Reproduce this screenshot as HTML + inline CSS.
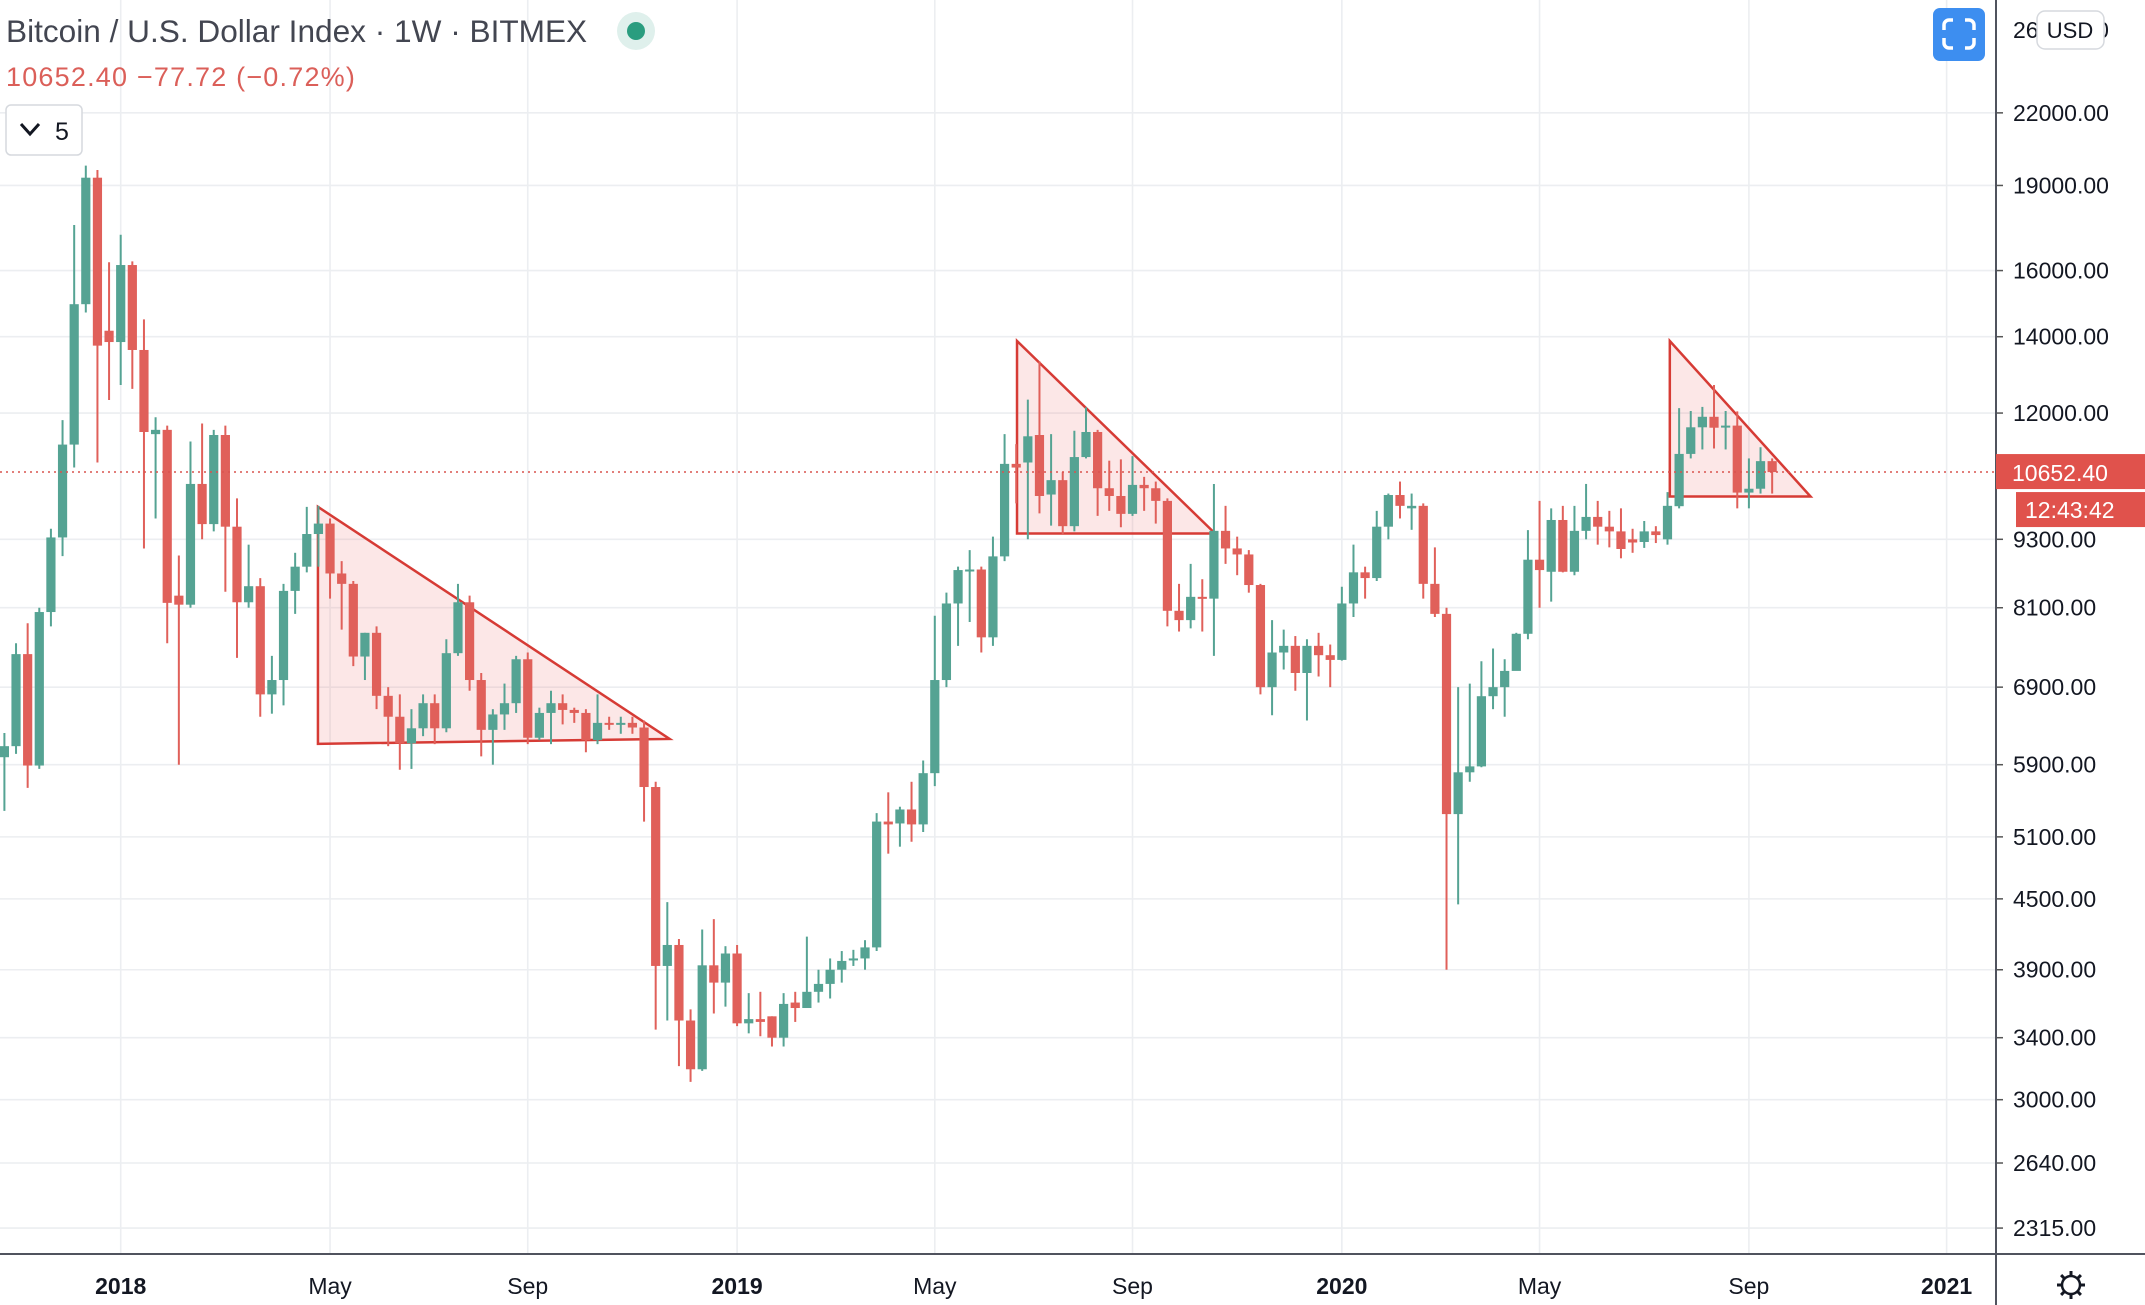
<!DOCTYPE html>
<html><head><meta charset="utf-8"><style>
html,body{margin:0;padding:0;background:#fff;}
body{width:2145px;height:1305px;overflow:hidden;position:relative;font-family:"Liberation Sans",sans-serif;}
svg{position:absolute;left:0;top:0;}
</style></head><body>
<svg id="chart" width="2145" height="1305" viewBox="0 0 2145 1305" xmlns="http://www.w3.org/2000/svg">
<g id="grid"></g>
<g id="tri"></g>
<g id="candles"></g>
<g id="axes"></g>
<g id="hdr">
<text x="6" y="42" font-size="31.6" fill="#434651">Bitcoin / U.S. Dollar Index · 1W · BITMEX</text>
<circle cx="636" cy="31" r="19" fill="#dff0ec"/>
<circle cx="636" cy="31" r="9" fill="#2a9d7f"/>
<text x="6" y="86" font-size="27" letter-spacing="1.2" fill="#db5f59">10652.40 −77.72 (−0.72%)</text>
<rect x="6" y="105" width="76" height="50" rx="5" fill="#fff" stroke="#d6d9de" stroke-width="1.5"/>
<path d="M21 124 L30 134 L39 124" fill="none" stroke="#131722" stroke-width="3"/>
<text x="55" y="140" font-size="25" fill="#131722">5</text>
<rect x="1933" y="8" width="52" height="53" rx="7" fill="#3d8ef0"/>
<rect x="1944" y="20" width="30" height="28" rx="5" fill="none" stroke="#fff" stroke-width="3.5"/>
<rect x="1939" y="30" width="40" height="8" fill="#3d8ef0"/>
<rect x="1953" y="14" width="12" height="40" fill="#3d8ef0"/>
</g>
</svg>
<script>
const opens=[5990,6125,7376,5890,8030,9335,11260,14950,19300,14170,13850,16180,13630,11500,11600,8300,8150,10400,9590,11480,9540,8190,8460,6800,7000,8380,8800,9400,9600,8680,8500,7340,7700,6780,6500,6160,6350,6680,6350,7390,8190,7000,6330,6530,6680,7300,6230,6550,6680,6590,6550,6200,6420,6400,6420,6360,5640,3930,4100,3520,3190,3935,3800,4030,3500,3530,3550,3400,3650,3610,3730,3790,3900,3980,3990,4080,5260,5240,5390,5230,5800,7000,8170,8740,8750,7630,8985,10830,10860,11480,10180,10480,9550,10980,11550,10310,10150,9790,10380,10310,10050,8050,7900,8280,8250,9460,9130,9020,8480,6900,7400,7500,7100,7500,7360,7290,8170,8700,8600,9540,10170,9900,9950,8500,8000,5340,5810,5880,6775,6900,7130,7685,8925,8710,9670,8710,9460,9730,9540,9450,9300,9250,9450,9300,9943,11050,11660,11910,11660,11700,10220,10300,10890];
const highs=[6290,7540,7850,8100,9500,11830,17540,19775,19600,16270,17200,16300,14500,11900,11700,9000,11330,11750,11600,11700,10100,9200,8600,7350,8500,9050,9930,9950,9700,8900,8550,7700,7800,6900,6800,6600,6800,6800,7600,8500,8300,7100,6600,6950,7350,7400,6620,6850,6800,6620,6600,6800,6500,6500,6500,6450,5700,4470,4150,3600,4230,4320,4090,4100,3720,3730,3550,3720,3730,4170,3900,3990,4050,4060,4140,5350,5580,5420,5700,5950,7970,8350,8800,9100,8800,9350,11500,11270,12330,13320,11500,10650,11580,12140,11600,10900,10930,11000,10550,10450,10100,8500,8850,8580,10400,9950,9350,9100,8500,7900,7750,7650,7600,7700,7520,8450,9200,8800,9850,10200,10450,10200,10000,9150,8100,6900,6950,7270,7460,7300,7700,9475,10050,9900,9950,9950,10400,10050,9850,9900,9500,9650,9550,10230,12120,12050,12150,12700,12050,12040,10950,11200,10950];
const lows=[5375,6030,5630,5850,7800,8990,10750,14700,10860,12320,12700,12600,9130,9700,7540,5900,8100,9300,9450,8365,7320,8100,6500,6540,6650,8000,8700,8800,8250,7750,7200,7000,6600,6125,5840,5850,6250,6150,6300,7350,6850,6000,5900,6330,6550,6150,6200,6150,6400,6420,6050,6150,6330,6280,6280,5260,3456,3520,3210,3110,3180,3570,3620,3480,3430,3410,3340,3340,3510,3610,3650,3680,3800,3930,3900,4050,4930,5000,5050,5150,5650,6900,7500,7870,7400,7500,8900,10000,9300,9800,9560,9400,9450,10950,9750,9850,9530,9750,9850,9600,7800,7720,7770,7720,7350,8850,8650,8350,6800,6520,7150,6850,6450,7050,6900,7280,7950,8250,8550,9300,9700,9480,8250,7950,3900,4450,5700,5870,6600,6500,7600,7600,8100,8200,8700,8650,9300,9200,9150,8950,9050,9140,9230,9200,9900,10950,11150,11170,11150,9900,9900,10200,10200];
const closes=[6125,7376,5890,8030,9335,11260,14950,19300,13750,13850,16180,13630,11550,11600,8180,8150,10400,9590,11480,9540,8190,8460,6800,7000,8380,8800,9400,9600,8680,8500,7340,7700,6780,6500,6160,6350,6680,6350,7390,8190,7000,6330,6530,6680,7300,6230,6550,6680,6590,6550,6200,6420,6400,6420,6360,5640,3930,4100,3520,3190,3935,3800,4030,3500,3530,3510,3400,3640,3610,3730,3790,3900,3970,3990,4080,5260,5230,5390,5230,5800,7000,8170,8740,8750,7630,8985,10830,10750,11450,10150,10480,9550,10980,11550,10310,10150,9790,10380,10310,10050,8050,7900,8280,8250,9460,9130,9020,8480,6900,7400,7500,7100,7500,7360,7290,8170,8700,8600,9540,10170,9950,9950,8500,8000,5340,5810,5880,6775,6900,7130,7685,8925,8740,9670,8710,9460,9730,9540,9450,9120,9240,9450,9380,9950,11050,11660,11910,11650,11700,10220,10300,10890,10652];
const priceTicks=[22000,19000,16000,14000,12000,9300,8100,6900,5900,5100,4500,3900,3400,3000,2640,2315];
const tickLabels=["22000.00","19000.00","16000.00","14000.00","12000.00","9300.00","8100.00","6900.00","5900.00","5100.00","4500.00","3900.00","3400.00","3000.00","2640.00","2315.00"];
const timeIdx=[10,28,45,63,80,97,115,132,150,167];
const timeLabels=["2018","May","Sep","2019","May","Sep","2020","May","Sep","2021"];
const yearFlags=[1,0,0,1,0,0,1,0,0,1];
const triIdx=[[26.96,26.96,57.2],[87.07,87.07,104.1],[143.2,143.2,155.3]];
const triPrice=[[9930,6154,6215],[13880,9410,9410],[13880,10140,10140]];
const lastPrice=10652.40;

const NS="http://www.w3.org/2000/svg";
const PW=1996;
function yOf(p){return 30.1+Math.log(26000/p)*495.3;}
function xOf(i){return 4.4+i*11.63;}
function mk(tag,attrs,parent){const e=document.createElementNS(NS,tag);for(const k in attrs)e.setAttribute(k,attrs[k]);parent.appendChild(e);return e;}
const G=document.getElementById('grid'),C=document.getElementById('candles'),A=document.getElementById('axes'),T=document.getElementById('tri');
priceTicks.forEach((p,k)=>{
  const y=yOf(p);
  const l=mk('line',{x1:0,x2:PW,y1:y,y2:y,stroke:'#eceef1','stroke-width':1.6},G);
  
  
  const tk=mk('line',{x1:PW,x2:PW+7,y1:y,y2:y,stroke:'#555','stroke-width':1.5},A);
  
  
  const t=mk('text',{x:2013,y:y+8,'font-size':23,fill:'#131722'},A);
  t.textContent=tickLabels[k];
  
  
});
const tt=mk('text',{x:2013,y:38,'font-size':23,fill:'#131722'},A);tt.textContent='26000.00';


timeIdx.forEach((i,k)=>{
  const x=xOf(i);
  const l=mk('line',{x1:x,x2:x,y1:0,y2:1254,stroke:'#eceef1','stroke-width':1.6},G);
  
  
  const t=mk('text',{x:x,y:1294,'font-size':23,'text-anchor':'middle',fill:'#131722','font-weight':yearFlags[k]?'bold':'normal'},A);
  t.textContent=timeLabels[k];
  
  
});
triIdx.forEach((ti,k)=>{
  const pts=ti.map((i,j)=>xOf(i)+','+yOf(triPrice[k][j])).join(' ');
  const pg=mk('polygon',{points:pts,fill:'rgba(235,110,110,0.17)',stroke:'#d63b35','stroke-width':2.5},T);
  
  
});
closes.forEach((c,i)=>{
  const o=opens[i],h=highs[i],lo=lows[i],x=xOf(i);
  const col=c>=o?'#55a393':'#e0605a';
  const g=mk('g',{},C);
  
  
  mk('line',{x1:x,x2:x,y1:yOf(h),y2:yOf(lo),stroke:col,'stroke-width':2},g);
  const yt=yOf(Math.max(o,c)),yb=yOf(Math.min(o,c));
  mk('rect',{x:x-4.6,y:yt,width:9.2,height:Math.max(2,yb-yt),fill:col},g);
});
const ly=yOf(lastPrice);
const dl=mk('line',{x1:0,x2:PW,y1:ly,y2:ly,stroke:'#d9534f','stroke-width':1.5,'stroke-dasharray':'2 4'},A);


const ax=mk('line',{x1:PW,x2:PW,y1:0,y2:1305,stroke:'#50535e','stroke-width':2},A);


const bx=mk('line',{x1:0,x2:2145,y1:1254,y2:1254,stroke:'#50535e','stroke-width':2},A);


const pt=mk('rect',{x:1996,y:ly-18,width:149,height:35,fill:'#e0524c'},A);


const ptt=mk('text',{x:2012,y:ly+9,'font-size':23,fill:'#fff'},A);ptt.textContent='10652.40';


const ct=mk('rect',{x:2016,y:ly+20,width:129,height:35,fill:'#e0524c'},A);


const ctt=mk('text',{x:2025,y:ly+46,'font-size':23,fill:'#fff'},A);ctt.textContent='12:43:42';


const ub=mk('rect',{x:2037,y:11,width:67,height:38,rx:8,fill:'#fff',stroke:'#d6d9de','stroke-width':1.5},A);


const ut=mk('text',{x:2070,y:38,'font-size':22,'text-anchor':'middle',fill:'#131722'},A);ut.textContent='USD';


const gr=mk('g',{},A);


mk('circle',{cx:2071,cy:1285,r:9,fill:'none',stroke:'#131722','stroke-width':2.5},gr);
for(let a=0;a<8;a++){const r=a*Math.PI/4;mk('line',{x1:2071+Math.cos(r)*9,y1:1285+Math.sin(r)*9,x2:2071+Math.cos(r)*14,y2:1285+Math.sin(r)*14,stroke:'#131722','stroke-width':3},gr);}
</script>
</body></html>
